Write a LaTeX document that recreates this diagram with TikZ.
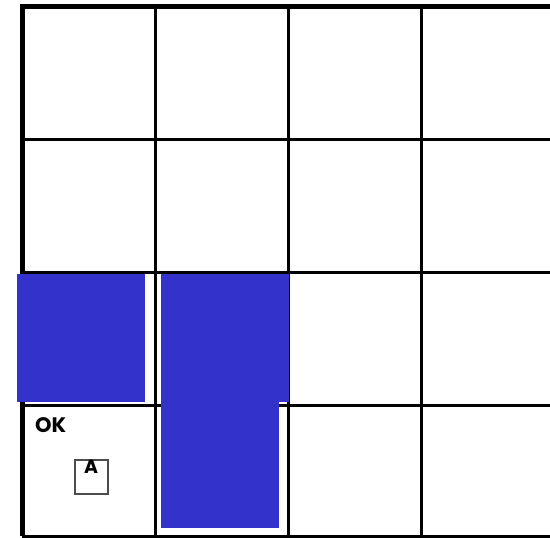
\documentclass[tikz,border=0pt]{standalone}
\usepackage{fontspec}
\setmainfont{Poppins}
\usepackage{xcolor}
\usetikzlibrary{positioning}
\definecolor{fillblue}{HTML}{3333CC}

\begin{document}
\begin{tikzpicture}[
  x=1pt, y=-1pt,
  gridline/.style={line width=3pt, black},
  border/.style={line width=5pt, black},
  block/.style={fill=fillblue, draw=none},
  lbl/.style={font=\fontsize{21}{22}\selectfont\bfseries, inner sep=0pt},
  tagbox/.style={draw=black!70, line width=1.5pt, minimum width=33pt, minimum height=34pt,
                 inner sep=0pt, anchor=north west}
]
\useasboundingbox (0,0) rectangle (550,538);
% grid
\foreach \xx in {155,288,421}
  \draw[gridline] (\xx,6) -- (\xx,536);
\foreach \yy in {139,272,405,536}
  \draw[gridline] (22,\yy) -- (550,\yy);
\draw[border] (22,536) -- (22,6) -- (550,6);
% blocks
\fill[block] (17,274) rectangle (145,402);
\fill[block] (161,274) rectangle (289,402);
\fill[block] (161,402) rectangle (279,528);
% labels
\node[lbl, anchor=north west] (ok) at (35,417) {OK};
\node[tagbox] (tag) at (74,459) {};
\node[font=\fontsize{19}{20}\selectfont\bfseries, inner sep=0pt, anchor=north] (taglbl) at ([yshift=-1pt]tag.north) {A};
\end{tikzpicture}
\end{document}
